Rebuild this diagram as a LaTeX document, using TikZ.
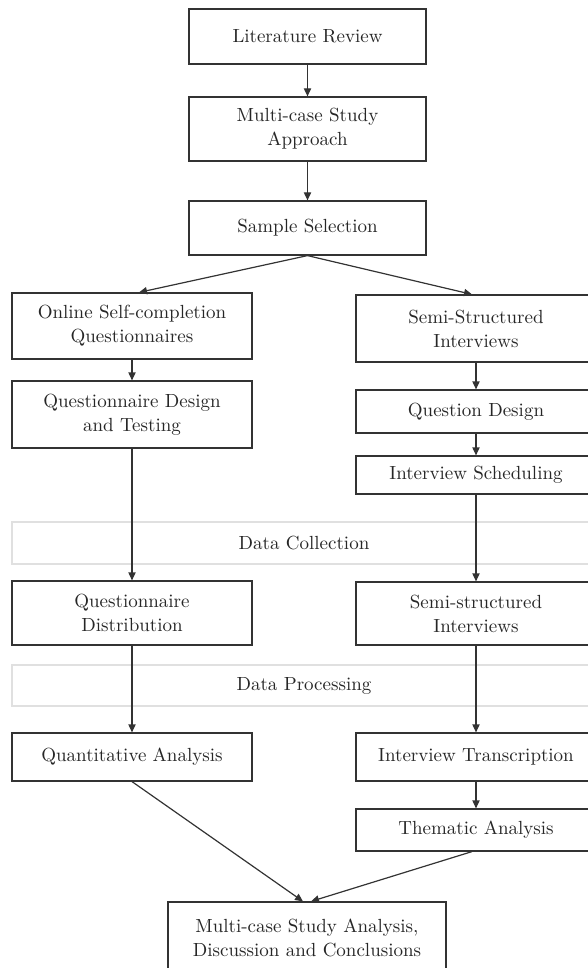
\documentclass[tikz,border=0pt]{standalone}
\usetikzlibrary{arrows.meta}
\tikzset{
    box/.style={draw=black!80, line width=0.6pt, rectangle, align=center,
        inner sep=0pt, minimum width=120pt, text=black!85,
        font=\fontsize{9.5}{12}\selectfont},
    band/.style={draw=black!12, line width=0.6pt, rectangle, align=center,
        inner sep=0pt, minimum width=292pt, minimum height=21pt, text=black!85,
        font=\fontsize{9.5}{12}\selectfont},
    arr/.style={draw=black!80, line width=0.6pt, -{Triangle[length=4pt,width=3.6pt]}}
}
\begin{document}
\begin{tikzpicture}[x=0.5pt,y=-0.5pt]
    \useasboundingbox (0,0) rectangle (588,968);
    \clip (0,0) rectangle (588,968);

    % top
    \node[box, minimum width=118.5pt, minimum height=27.5pt] (lit) at (307.5,36.5) {Literature Review};
    \node[box, minimum width=118.5pt, minimum height=32pt] (multi) at (307.5,129) {Multi-case Study\\Approach};
    \node[box, minimum width=118.5pt, minimum height=27pt] (sample) at (307.5,228) {Sample Selection};

    % left column
    \node[box, minimum height=33pt] (online) at (132,326) {Online Self-completion\\Questionnaires};
    \node[box, minimum height=33.5pt] (qdesign) at (132,414.5) {Questionnaire Design\\and Testing};
    \node[box, minimum height=32pt] (qdist) at (132,613) {Questionnaire\\Distribution};
    \node[box, minimum height=24pt] (quant) at (132,757) {Quantitative Analysis};

    % right column
    \node[box, minimum height=33.5pt] (semi) at (476,328.5) {Semi-Structured\\Interviews};
    \node[box, minimum height=21.5pt] (quest) at (476,411.5) {Question Design};
    \node[box, minimum height=19pt] (sched) at (476,475) {Interview Scheduling};
    \node[box, minimum height=31.5pt] (semint) at (476,613.5) {Semi-structured\\Interviews};
    \node[box, minimum height=24pt] (transc) at (476,757) {Interview Transcription};
    \node[box, minimum height=21pt] (thematic) at (476,830) {Thematic Analysis};

    % stages
    \node[band] (collect) at (304,543) {Data Collection};
    \node[band, minimum height=20.5pt] (process) at (304,685.5) {Data Processing};

    \node[box, minimum width=139pt, minimum height=35.5pt] (final) at (307,937.5) {Multi-case Study Analysis,\\Discussion and Conclusions};

    \foreach \a/\b in {lit/multi, multi/sample, online/qdesign, qdesign/qdist, qdist/quant,
        semi/quest, quest/sched, sched/semint, semint/transc, transc/thematic}
    {
        \draw[arr] (\a) -- (\b);
    }
    \draw[arr] (sample.south) -- ([xshift=3.5pt]online.north);
    \draw[arr] (sample.south) -- ([xshift=-2pt]semi.north);
    \draw[arr] (quant.south) -- ([xshift=-2pt]final.north);
    \draw[arr] ([xshift=-2pt]thematic.south) -- ([xshift=2pt]final.north);
\end{tikzpicture}
\end{document}
